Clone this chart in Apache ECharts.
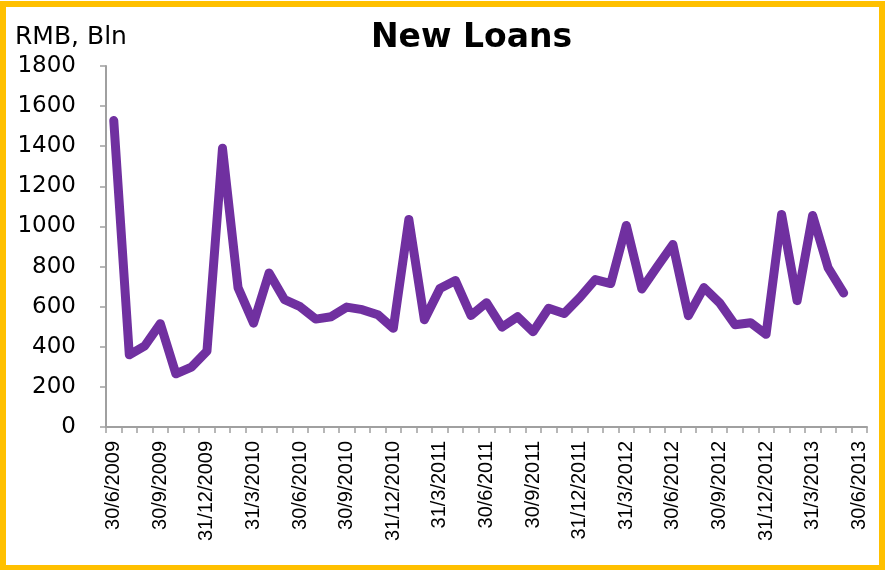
<!DOCTYPE html>
<html>
<head>
<meta charset="utf-8">
<title>New Loans</title>
<script src="https://cdn.jsdelivr.net/npm/echarts@6/dist/echarts.min.js"></script>
<style>
  html, body { margin: 0; padding: 0; background: #ffffff; }
  #chart { width: 885px; height: 570px; }
</style>
</head>
<body>
<div id="chart"></div>
<script>
// Month-end dates, June 2009 to June 2013
const months = [
  '30/6/2009','31/7/2009','31/8/2009','30/9/2009','31/10/2009','30/11/2009','31/12/2009',
  '31/1/2010','28/2/2010','31/3/2010','30/4/2010','31/5/2010','30/6/2010','31/7/2010',
  '31/8/2010','30/9/2010','31/10/2010','30/11/2010','31/12/2010',
  '31/1/2011','28/2/2011','31/3/2011','30/4/2011','31/5/2011','30/6/2011','31/7/2011',
  '31/8/2011','30/9/2011','31/10/2011','30/11/2011','31/12/2011',
  '31/1/2012','29/2/2012','31/3/2012','30/4/2012','31/5/2012','30/6/2012','31/7/2012',
  '31/8/2012','30/9/2012','31/10/2012','30/11/2012','31/12/2012',
  '31/1/2013','28/2/2013','31/3/2013','30/4/2013','31/5/2013','30/6/2013'
];

// New loans, RMB bln (no figure yet for the last month)
const newLoans = [
  1528, 360, 405, 515, 265, 298, 378,
  1390, 695, 518, 768, 635, 600, 538,
  550, 598, 585, 560, 492,
  1035, 535, 690, 730, 556, 620, 498,
  550, 475, 592, 566, 645,
  735, 715, 1005, 688, 800, 910, 555,
  695, 620, 510, 520, 462,
  1060, 630, 1055, 793, 668, null
];

const yTicks = { min: 0, max: 1800, step: 200 };

const axisGrey = '#A0A0A0';
const lineColour = '#7030A0';

const chart = echarts.init(document.getElementById('chart'));

chart.setOption({
  backgroundColor: '#ffffff',
  animation: false,
  title: {
    text: 'New Loans',
    left: 371,
    top: 22,
    padding: 0,
    textStyle: {
      fontFamily: 'DejaVu Sans',
      fontWeight: 'bold',
      fontSize: 33,
      color: '#000000'
    }
  },
  graphic: [
    {
      type: 'rect',
      silent: true,
      shape: { x: 3, y: 4, width: 879, height: 564 },
      style: { fill: 'none', stroke: '#FFC000', lineWidth: 6 }
    },
    {
      type: 'text',
      left: 15,
      top: 25,
      style: {
        text: 'RMB, Bln',
        fontFamily: 'DejaVu Sans',
        fontSize: 25,
        fill: '#000000'
      }
    }
  ],
  grid: {
    left: 106,
    right: 18,
    top: 66,
    bottom: 143,
    containLabel: false
  },
  xAxis: {
    type: 'category',
    data: months,
    boundaryGap: true,
    axisLine: { show: true, lineStyle: { color: axisGrey, width: 2 } },
    axisTick: {
      show: true,
      interval: 0,
      length: 6,
      lineStyle: { color: axisGrey, width: 1.5 }
    },
    axisLabel: {
      interval: 2,
      rotate: 90,
      margin: 14,
      fontFamily: 'Liberation Sans',
      fontSize: 20,
      color: '#000000'
    },
    splitLine: { show: false }
  },
  yAxis: {
    type: 'value',
    min: yTicks.min,
    max: yTicks.max,
    interval: yTicks.step,
    axisLine: { show: true, lineStyle: { color: axisGrey, width: 2 } },
    axisTick: {
      show: true,
      length: 6,
      lineStyle: { color: axisGrey, width: 1.5 }
    },
    axisLabel: {
      margin: 30,
      fontFamily: 'DejaVu Sans',
      fontSize: 23,
      color: '#000000',
      formatter: function (v) { return String(v); }
    },
    splitLine: { show: false }
  },
  series: [
    {
      name: 'New Loans',
      type: 'line',
      data: newLoans,
      showSymbol: false,
      symbol: 'none',
      connectNulls: false,
      lineStyle: {
        color: lineColour,
        width: 9,
        cap: 'round',
        join: 'round'
      }
    }
  ]
});
</script>
</body>
</html>
